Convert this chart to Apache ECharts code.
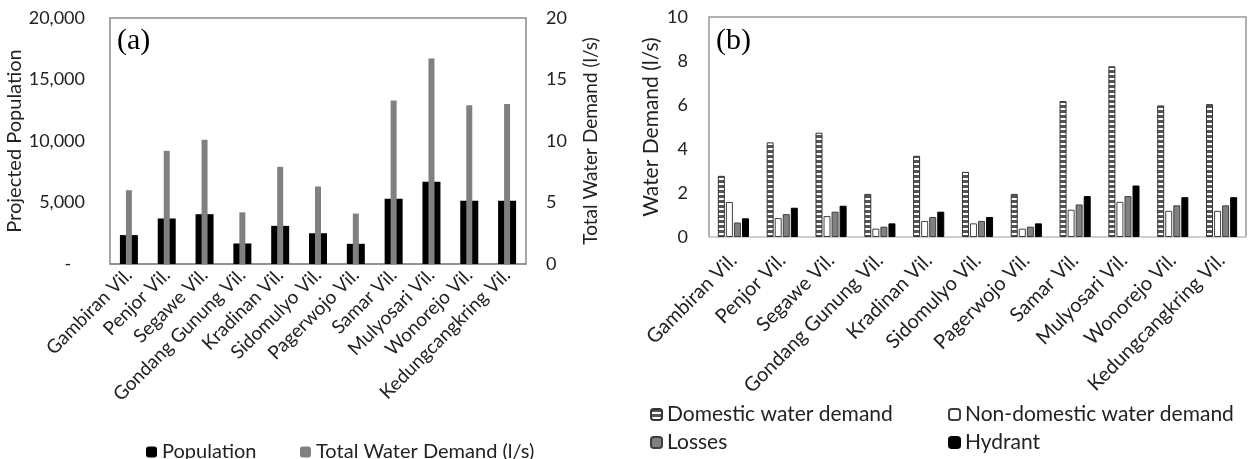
<!DOCTYPE html>
<html>
<head>
<meta charset="utf-8">
<script src="https://cdn.jsdelivr.net/npm/echarts@6/dist/echarts.min.js"></script>
<style>
html,body{margin:0;padding:0;background:#fff;}
#c{width:1248px;height:459px;}
</style>
</head>
<body>
<div id="c"></div>
<script>
// ---- data ----
const villages = ['Gambiran Vil.','Penjor Vil.','Segawe Vil.','Gondang Gunung Vil.','Kradinan Vil.','Sidomulyo Vil.','Pagerwojo Vil.','Samar Vil.','Mulyosari Vil.','Wonorejo Vil.','Kedungcangkring Vil.'];
const population = [2350, 3700, 4050, 1670, 3100, 2500, 1640, 5310, 6680, 5150, 5150];
const totalDemand = [6.0, 9.2, 10.1, 4.2, 7.9, 6.3, 4.1, 13.3, 16.7, 12.9, 13.0];
const domestic = [2.78, 4.30, 4.74, 1.96, 3.69, 2.96, 1.96, 6.18, 7.76, 5.98, 6.04];
const nonDomestic = [1.59, 0.86, 0.95, 0.38, 0.73, 0.62, 0.38, 1.24, 1.60, 1.19, 1.19];
const losses = [0.66, 1.04, 1.15, 0.47, 0.91, 0.73, 0.47, 1.48, 1.86, 1.44, 1.44];
const hydrant = [0.85, 1.33, 1.42, 0.62, 1.15, 0.91, 0.62, 1.86, 2.34, 1.81, 1.81];

// ---- stripe pattern ----
const pc = document.createElement('canvas');
pc.width = 4; pc.height = 5;
const pctx = pc.getContext('2d');
pctx.fillStyle = '#ffffff'; pctx.fillRect(0,0,4,5);
pctx.fillStyle = '#555555'; pctx.fillRect(0,0,4,3);

const F = 'Lato, "Noto Sans", sans-serif';
const txt = '#222';
const chart = echarts.init(document.getElementById('c'), null, {renderer:'canvas'});

const catAxisBase = {
  type:'category', data: villages,
  axisTick:{show:false}
};

chart.setOption({
  animation:false,
  textStyle:{fontFamily:F},
  title:[
    {text:'(a)', left:112, top:21, textStyle:{fontFamily:'"Liberation Serif", serif', fontSize:30, fontWeight:'normal', color:'#000'}},
    {text:'(b)', left:711, top:21, textStyle:{fontFamily:'"Liberation Serif", serif', fontSize:30, fontWeight:'normal', color:'#000'}}
  ],
  grid:[
    {left:110, top:18, width:416, height:246, show:true, borderColor:'#8c8c8c', borderWidth:1.5, backgroundColor:'transparent'},
    {left:709, top:17, width:537, height:220, show:true, borderColor:'#999', borderWidth:1.5, backgroundColor:'transparent'}
  ],
  legend:[
    {data:['Population'], left:141, top:437, itemWidth:11, itemHeight:11, textStyle:{fontFamily:F, fontSize:20, color:txt}},
    {data:['Total Water Demand (l/s)'], left:295, top:437, itemWidth:11, itemHeight:11, textStyle:{fontFamily:F, fontSize:20, color:txt}},
    {data:['Domestic water demand','Losses'], orient:'vertical', left:645, top:399, itemGap:7, itemWidth:11, itemHeight:11, textStyle:{fontFamily:F, fontSize:21, color:txt}},
    {data:['Non-domestic water demand','Hydrant'], orient:'vertical', left:943, top:399, itemGap:7, itemWidth:11, itemHeight:11, textStyle:{fontFamily:F, fontSize:21, color:txt}}
  ],
  xAxis:[
    Object.assign({}, catAxisBase, {gridIndex:0, axisLine:{show:true, lineStyle:{color:'#8c8c8c', width:1.5}},
      axisLabel:{interval:0, rotate:45, color:txt, fontFamily:F, fontSize:19, margin:8}}),
    {type:'category', data:villages, gridIndex:0, show:false},
    Object.assign({}, catAxisBase, {gridIndex:1, axisLine:{show:true, lineStyle:{color:'#d9d9d9', width:1.5}},
      axisLabel:{interval:0, rotate:45, color:txt, fontFamily:F, fontSize:20, margin:20}})
  ],
  yAxis:[
    {type:'value', gridIndex:0, min:0, max:20000, interval:5000, splitLine:{show:false},
     axisLine:{show:false}, axisTick:{show:false},
     axisLabel:{color:txt, fontFamily:F, fontSize:18, margin:25,
       formatter: v => v === 0 ? '-   ' : v.toLocaleString('en-US')},
     name:'Projected Population', nameLocation:'middle', nameGap:82, nameRotate:90,
     nameTextStyle:{fontFamily:F, fontSize:20, color:txt}},
    {type:'value', gridIndex:0, position:'right', min:0, max:20, interval:5, splitLine:{show:false},
     axisLine:{show:false}, axisTick:{show:false},
     axisLabel:{color:txt, fontFamily:F, fontSize:18, margin:20},
     name:'Total Water Demand (l/s)', nameLocation:'middle', nameGap:55, nameRotate:90,
     nameTextStyle:{fontFamily:F, fontSize:19, color:txt}},
    {type:'value', gridIndex:1, min:0, max:10, interval:2, splitLine:{show:false},
     axisLine:{show:false}, axisTick:{show:false},
     axisLabel:{color:txt, fontFamily:F, fontSize:18, margin:21},
     name:'Water Demand (l/s)', nameLocation:'middle', nameGap:47, nameRotate:90,
     nameTextStyle:{fontFamily:F, fontSize:21, color:txt}}
  ],
  series:[
    {name:'Population', type:'bar', xAxisIndex:0, yAxisIndex:0, data:population, barWidth:18,
     itemStyle:{color:'#000'}},
    {name:'Total Water Demand (l/s)', type:'bar', xAxisIndex:1, yAxisIndex:1, data:totalDemand, barWidth:6,
     itemStyle:{color:'#808080'}},
    {name:'Domestic water demand', type:'bar', xAxisIndex:2, yAxisIndex:2, data:domestic, barWidth:7, barGap:'15%',
     itemStyle:{color:{image:pc, repeat:'repeat'}, borderColor:'#333', borderWidth:1}},
    {name:'Non-domestic water demand', type:'bar', xAxisIndex:2, yAxisIndex:2, data:nonDomestic, barWidth:7, barGap:'15%',
     itemStyle:{color:'#fff', borderColor:'#404040', borderWidth:1}},
    {name:'Losses', type:'bar', xAxisIndex:2, yAxisIndex:2, data:losses, barWidth:7, barGap:'15%',
     itemStyle:{color:'#808080', borderColor:'#404040', borderWidth:1}},
    {name:'Hydrant', type:'bar', xAxisIndex:2, yAxisIndex:2, data:hydrant, barWidth:7, barGap:'15%',
     itemStyle:{color:'#000', borderColor:'#000', borderWidth:1}}
  ]
});
</script>
</body>
</html>
